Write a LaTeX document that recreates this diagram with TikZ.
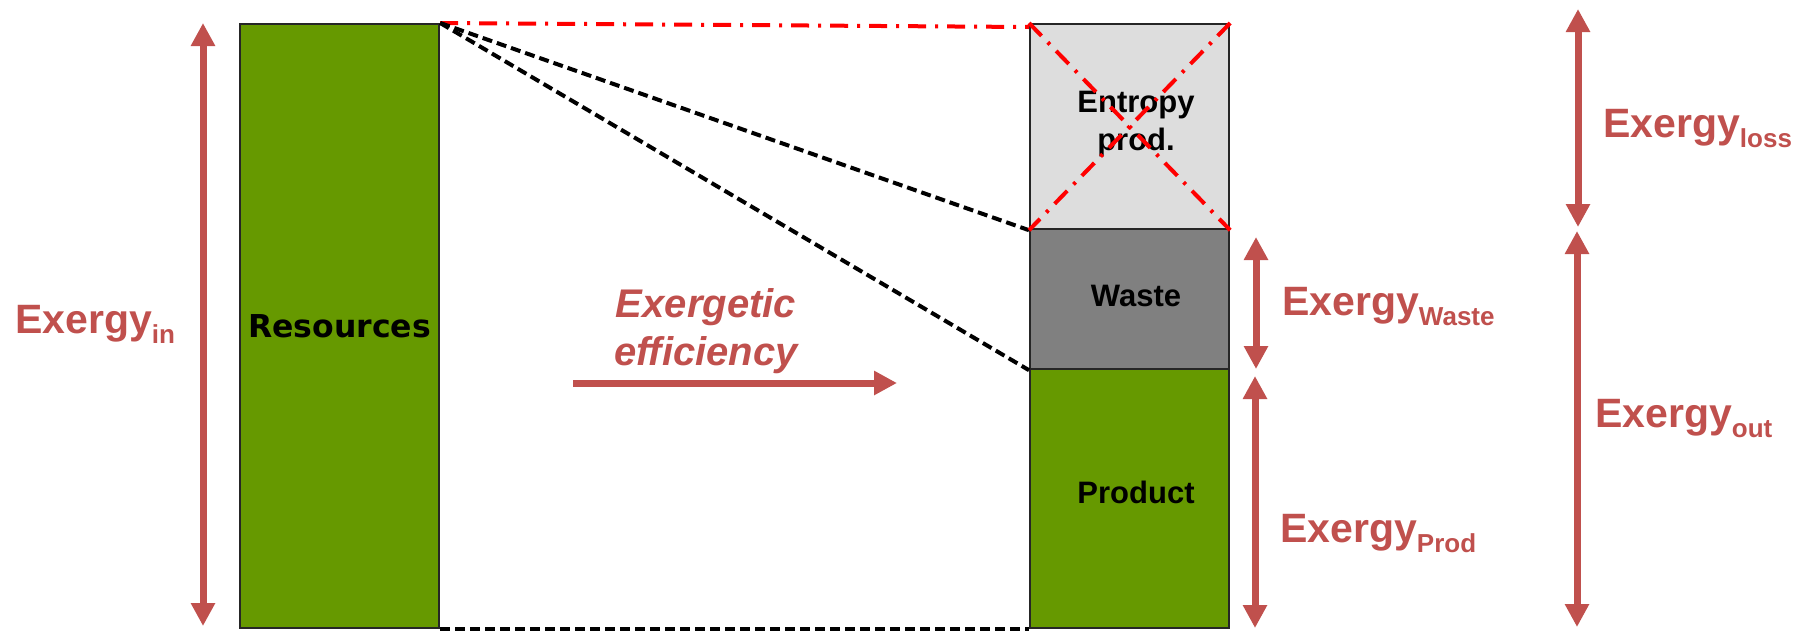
\documentclass[tikz,border=0pt]{standalone}
\usepackage{fontspec}
\setmainfont{Liberation Sans}
\newfontfamily\dejavu{DejaVu Sans}
\usetikzlibrary{arrows.meta,calc}
\definecolor{exred}{HTML}{C0504D}
\definecolor{resgreen}{HTML}{669900}
\definecolor{entgray}{HTML}{DDDDDD}
\definecolor{wastegray}{HTML}{808080}
\newcommand{\myfs}[2]{\fontsize{#1}{#2}\selectfont}
\newcommand{\mysub}[1]{\raisebox{-10pt}{\myfs{26}{26}#1}}
\begin{document}
\begin{tikzpicture}[x=1pt,y=-1pt,
  box/.style={draw=black!85, line width=2.2pt, inner sep=0pt, anchor=north west},
  boxtext/.style={font=\bfseries\myfs{31}{38}, align=center, inner sep=0pt},
  exarrow/.style={draw=exred, line width=7pt, {Triangle[width=23pt,length=23pt]}-{Triangle[width=23pt,length=23pt]}},
  effarrow/.style={draw=exred, line width=7pt, -{Triangle[width=23pt,length=23pt]}},
  exlabel/.style={text=exred, font=\bfseries\myfs{41}{41}, anchor=base west, inner sep=0pt},
  blackdash/.style={draw=black, line width=4pt, dash pattern=on 10pt off 5pt},
  reddash/.style={draw=red, line width=4pt, dash pattern=on 18pt off 9pt on 3pt off 9pt}]
\useasboundingbox (0,0) rectangle (1814,630);

% boxes
\node[box, fill=resgreen, minimum width=199pt, minimum height=604pt,
      font=\dejavu\bfseries\myfs{31.5}{38}] (res) at (239,23) {Resources};
\node[box, fill=entgray, minimum width=199pt, minimum height=205pt] (ent) at (1029,23) {};
\node[box, fill=wastegray, minimum width=199pt, minimum height=140pt] (waste) at (1029,228) {};
\node[box, fill=resgreen, minimum width=199pt, minimum height=259pt] (prod) at (1029,368) {};

\node[boxtext] (entlab) at (1136,124) {Entropy\\prod.};
\node[boxtext] (wastelab) at (1136,296) {Waste};
\node[boxtext] (prodlab) at (1136,492) {Product};

% connectors
\draw[reddash] (res.north east) -- ($(ent.north west)+(0,4)$);
\draw[blackdash] (res.north east) -- (ent.south west);
\draw[blackdash] (res.north east) -- (waste.south west);
\draw[blackdash] (res.south east) -- (prod.south west);
\draw[reddash] (ent.north west) -- (ent.south east);
\draw[reddash] (ent.north east) -- (ent.south west);

% arrows
\coordinate (inT) at (203,23);   \coordinate (inB) at (203,626);
\coordinate (lossT) at (1578,9); \coordinate (lossB) at (1578,227);
\coordinate (outT) at (1577,231); \coordinate (outB) at (1577,627);
\coordinate (wasT) at (1256,237); \coordinate (wasB) at (1256,369);
\coordinate (proT) at (1255,376); \coordinate (proB) at (1255,628);
\coordinate (effL) at (573,383); \coordinate (effR) at (897,383);
\draw[exarrow] (inT) -- (inB);
\draw[exarrow] (lossT) -- (lossB);
\draw[exarrow] (outT) -- (outB);
\draw[exarrow] (wasT) -- (wasB);
\draw[exarrow] (proT) -- (proB);
\draw[effarrow] (effL) -- (effR);

% labels
\node[text=exred, font=\bfseries\itshape\myfs{40}{48}, align=center, inner sep=0pt] (efflab) at (706,331) {Exergetic\\efficiency};
\node[exlabel] (inlab) at (15,333) {Exergy\mysub{in}};
\node[exlabel] (losslab) at (1603,137) {Exergy\mysub{loss}};
\node[exlabel] (waslab) at (1282,315) {Exergy\mysub{Waste}};
\node[exlabel] (outlab) at (1595,427) {Exergy\mysub{out}};
\node[exlabel] (prolab) at (1280,542) {Exergy\mysub{Prod}};
\end{tikzpicture}
\end{document}
